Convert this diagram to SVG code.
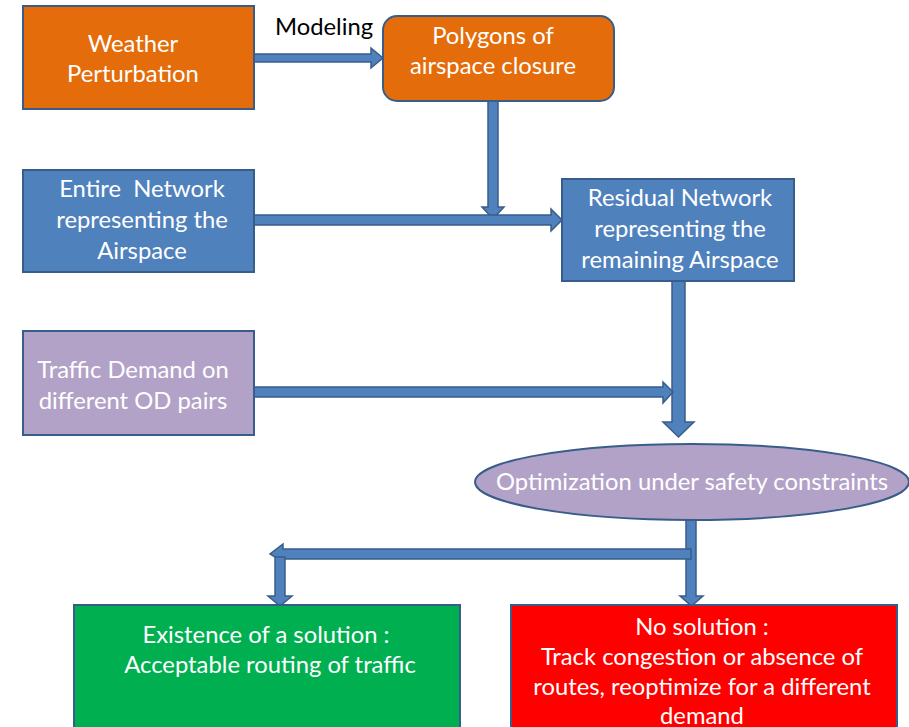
<svg xmlns="http://www.w3.org/2000/svg" width="909" height="727" viewBox="0 0 909 727">
  <style>
    .box { stroke: #385D8A; stroke-width: 2; }
    .orange { fill: #E46C0A; }
    .blue { fill: #4F81BD; }
    .lilac { fill: #B3A2C7; }
    .green { fill: #00B050; }
    .red { fill: #FF0000; }
    .arrow { fill: #4F81BD; stroke: #385D8A; stroke-width: 1.5; stroke-linejoin: miter; }
    text { font-family: Lato, "Liberation Sans", sans-serif; font-size: 23.8px; fill: #FFFFFF; text-anchor: middle; white-space: pre; }
    .dark { fill: #000000; }
  </style>
  <rect width="909" height="727" fill="#FFFFFF"/>

  <g id="connectors">
    <!-- weather -> polygons -->
    <polygon class="arrow" points="254,54 371,54 371,48 383,58 371,68 371,62 254,62"/>
    <!-- polygons -> residual junction -->
    <polygon class="arrow" points="488,101 498,101 498,207 504,207 493,219 482,207 488,207"/>
    <!-- entire network -> residual -->
    <polygon class="arrow" points="254,215 551,215 551,209 562,220 551,231 551,225 254,225"/>
    <!-- residual -> optimization -->
    <polygon class="arrow" points="672,281 685,281 685,422 694,422 678.5,437 663,422 672,422"/>
    <!-- traffic demand -> main flow -->
    <polygon class="arrow" points="254,387 663,387 663,382 673,392 663,403 663,397 254,397"/>
    <!-- optimization -> split -->
    <polygon class="arrow" points="686,519 696,519 696,596 703,596 691.5,606 680,596 686,596"/>
    <polygon class="arrow" points="691,549 691,559 283,559 283,562 270,554 283,544 283,549"/>
    <polygon class="arrow" points="275,557 285,557 285,596 292,596 280,606 268,596 275,596"/>
  </g>

  <g id="weather">
    <rect class="box orange" x="23" y="6" width="231" height="103"/>
    <text x="133" y="52">Weather</text>
    <text x="133" y="82">Perturbation</text>
  </g>

  <text class="dark" x="324" y="35">Modeling</text>

  <g id="polygons">
    <rect class="box orange" x="383" y="16" width="231" height="85" rx="14"/>
    <text x="493" y="44">Polygons of</text>
    <text x="493" y="74">airspace closure</text>
  </g>

  <g id="entire-network">
    <rect class="box blue" x="23" y="170" width="231" height="102"/>
    <text x="142" y="197">Entire  Network</text>
    <text x="142" y="228">representing the</text>
    <text x="142" y="259">Airspace</text>
  </g>

  <g id="residual-network">
    <rect class="box blue" x="562" y="179" width="232" height="102"/>
    <text x="680" y="206">Residual Network</text>
    <text x="680" y="237">representing the</text>
    <text x="680" y="268">remaining Airspace</text>
  </g>

  <g id="traffic-demand">
    <rect class="box lilac" x="23" y="331" width="231" height="104"/>
    <text x="133" y="378" fill="#F2F2F2">Traffic Demand on</text>
    <text x="133" y="409" fill="#F2F2F2">different OD pairs</text>
  </g>

  <g id="optimization">
    <ellipse class="box lilac" cx="692" cy="482" rx="217" ry="38"/>
    <text x="692" y="490">Optimization under safety constraints</text>
  </g>

  <g id="solution">
    <rect class="box green" x="74" y="605" width="386" height="130"/>
    <text x="266" y="643">Existence of a solution :</text>
    <text x="270" y="673">Acceptable routing of traffic</text>
  </g>

  <g id="no-solution">
    <rect class="box red" x="511" y="605" width="386" height="130"/>
    <text x="702" y="635">No solution :</text>
    <text x="702" y="665">Track congestion or absence of</text>
    <text x="702" y="695">routes, reoptimize for a different</text>
    <text x="702" y="724">demand</text>
  </g>
</svg>
